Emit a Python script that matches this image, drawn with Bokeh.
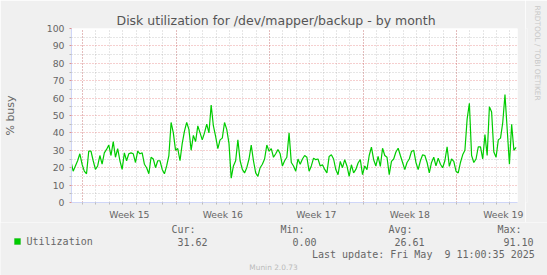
import pandas as pd
from bokeh.plotting import figure
from bokeh.layouts import column, row
from bokeh.models import Range1d, FixedTicker, Label, BoxAnnotation, Title
from bokeh.embed import file_html
from bokeh.resources import INLINE

# ---------------- data ----------------
title_text = "Disk utilization for /dev/mapper/backup - by month"
y_label = "% busy"
series_name = "Utilization"
first_sample = "2025-04-06 03:00"
sample_step = "4h"
utilization = [
    23.6, 18, 21, 24, 28, 22, 18, 16.5, 29.5, 29.5,
    24, 19, 21, 27, 22, 28.5, 30.5, 33, 27, 35,
    26, 31, 24, 19, 28.5, 24, 28, 28.5, 28, 23,
    29.5, 28, 28.5, 22, 20, 16.5, 26, 25, 20, 24,
    24, 19, 16.5, 21, 27, 46, 40, 30, 31, 24,
    34, 41, 46, 42, 30, 38.6, 35, 44, 40, 36,
    40, 45, 40, 56, 44, 38, 31, 36, 37, 46,
    42, 34, 14, 21, 24, 36, 24, 19, 17, 20,
    25, 33, 24, 17, 15, 20, 22, 25, 33, 29.5,
    31, 26, 28, 30.5, 28, 21, 24, 26, 40, 23,
    21, 18, 25, 22, 25, 27, 26, 18, 21, 25.5,
    24.6, 25, 21, 21.7, 19, 17, 26.5, 27.4, 25, 18.9,
    16, 23.6, 20, 24.6, 21, 15, 21.7, 17, 19, 22.7,
    24.6, 16, 21, 18.9, 27, 31.8, 24.6, 21, 26.5, 20.8,
    31.2, 27, 26, 16, 23.6, 25, 29, 31.2, 27, 23,
    18.9, 23, 25, 29.3, 30, 23, 18.9, 24, 27.4, 27,
    23, 17, 23, 26, 21, 25.5, 22, 20, 24, 32,
    20.8, 25, 23.6, 18, 17, 23, 27.4, 30, 48, 57,
    27, 23, 25, 32, 32, 25, 39, 27, 55, 52,
    29, 26, 36, 37, 46, 62, 42, 22, 45, 30,
    31.62,
]
range_start = "2025-04-06 04:00"
range_end = "2025-05-09 13:30"
week_starts = ["2025-04-07", "2025-04-14", "2025-04-21", "2025-04-28", "2025-05-05"]
week_labels = ["Week 15", "Week 16", "Week 17", "Week 18", "Week 19"]
day_first, day_last = "2025-04-07", "2025-05-09"
y_ticks = [0, 10, 20, 30, 40, 50, 60, 70, 80, 90, 100]
y_minor = [5, 15, 25, 35, 45, 55, 65, 75, 85, 95]
stat_heads = ["Cur:", "Min:", "Avg:", "Max:"]
stat_values = ["31.62", "0.00", "26.61", "91.10"]
last_update = "Last update: Fri May\u00a0 9 11:00:35 2025"
watermark = "Munin 2.0.73"
credit = "RRDTOOL / TOBI OETIKER"

# ---------------- layout constants (canvas px) ----------------
W, H = 547, 275
FL, FR, FT, FB = 67, 517, 28, 203
MAIN_W, MAIN_H = 525, 222
BG = "#F0F0F0"
FONT_COL = "#666666"
AXIS_COL = "#CFD6F8"


def ms(s):
    return int(pd.Timestamp(s).value // 10**6)


times = pd.date_range(first_sample, periods=len(utilization), freq=sample_step)
x0, x1 = ms(range_start), ms(range_end)

p = figure(width=MAIN_W, height=MAIN_H, x_axis_type="datetime",
           x_range=Range1d(x0, x1), y_range=Range1d(0, 100),
           output_backend="svg", toolbar_location=None,
           min_border_left=FL, min_border_right=MAIN_W - FR,
           min_border_top=FT, min_border_bottom=MAIN_H - FB)
p.background_fill_color = "#FFFFFF"
p.border_fill_color = BG
p.outline_line_color = None

# title
p.title.text = title_text
p.title.align = "left"
p.title.offset = 112 - FL
p.title.standoff = 2
p.title.vertical_align = "bottom"
p.title.text_font = "DejaVu Sans"
p.title.text_font_size = "12.5px"
p.title.text_font_style = "normal"
p.title.text_color = "#555555"

# grids
mondays = [ms(s) for s in week_starts]
days = [ms(d) for d in pd.date_range(day_first, day_last, freq="1D")]
p.xgrid.ticker = FixedTicker(ticks=mondays, minor_ticks=days)
p.ygrid.ticker = FixedTicker(ticks=y_ticks, minor_ticks=y_minor)
for g in (p.xgrid, p.ygrid):
    g.grid_line_color = "#DE5050"
    g.grid_line_alpha = 0.55
    g.grid_line_dash = "1 2"
    g.minor_grid_line_color = "#8F8F8F"
    g.minor_grid_line_alpha = 0.45
    g.minor_grid_line_dash = "1 2"

# axes
mid_week = [m + int(3.5 * 86400000) for m in mondays]
p.xaxis.ticker = FixedTicker(ticks=mid_week, minor_ticks=days)
p.xaxis.major_label_overrides = {t: l for t, l in zip(mid_week, week_labels)}
p.yaxis.ticker = FixedTicker(ticks=y_ticks, minor_ticks=y_minor)
for ax in (p.xaxis[0], p.yaxis[0]):
    ax.axis_line_color = AXIS_COL
    ax.major_label_text_font = "DejaVu Sans"
    ax.major_label_text_font_size = "9.3px"
    ax.major_label_text_color = FONT_COL
    ax.minor_tick_line_color = "#BBBBBB"
    ax.minor_tick_in = 0
    ax.minor_tick_out = 2
p.xaxis.major_tick_line_color = None
p.xaxis.major_tick_in = 0
p.xaxis.major_tick_out = 0
p.xaxis.major_label_standoff = 4
p.yaxis.major_tick_line_color = "#DE9090"
p.yaxis.major_tick_in = 0
p.yaxis.major_tick_out = 2
p.yaxis.major_label_standoff = 5
p.yaxis.axis_label = y_label
p.yaxis.axis_label_text_font = "DejaVu Sans"
p.yaxis.axis_label_text_font_size = "11px"
p.yaxis.axis_label_text_font_style = "normal"
p.yaxis.axis_label_text_color = FONT_COL
p.yaxis.axis_label_standoff = 27

# series
p.line(times, utilization, line_color="#00CC00", line_width=1.2)

# right strip with the rrdtool credit (as a side title, not clipped)
strip = figure(width=W - MAIN_W, height=MAIN_H, x_range=Range1d(0, 1), y_range=Range1d(0, 1),
               output_backend="svg", toolbar_location=None,
               x_axis_location=None, y_axis_location=None, min_border=0)
strip.grid.visible = False
strip.outline_line_color = None
strip.background_fill_color = BG
strip.border_fill_color = BG
strip.add_layout(Title(text=credit, align="left", offset=5 - FT, standoff=9,
                       vertical_align="middle", text_font="DejaVu Sans",
                       text_font_size="7.4px", text_font_style="normal",
                       text_color="#C8C8C8"), "right")

# legend figure below
LEG_H = H - MAIN_H
leg = figure(width=W, height=LEG_H, x_range=Range1d(0, 1), y_range=Range1d(0, 1),
             output_backend="svg", toolbar_location=None,
             x_axis_location=None, y_axis_location=None, min_border=0)
leg.grid.visible = False
leg.outline_line_color = None
leg.background_fill_color = BG
leg.border_fill_color = BG


def ltxt(s, cx, cy, size, font="DejaVu Sans Mono", align="left", color=FONT_COL):
    leg.add_layout(Label(x=cx, y=H - cy, x_units="screen", y_units="screen",
                         text=s, text_font=font, text_font_size=size,
                         text_color=color, text_align=align, text_baseline="middle"))


head_x = [171, 280, 388, 497]
val_x = [177, 292, 394, 503]
for s, x in zip(stat_heads, head_x):
    ltxt(s, x, 229, "10px")
for s, x in zip(stat_values, val_x):
    ltxt(s, x, 241, "10px")
ltxt(series_name, 26, 241, "10px")
ltxt(last_update, 311.5, 254, "10px")
ltxt(watermark, 273, 266.5, "7.4px", font="DejaVu Sans", align="center", color="#BBBBBB")

leg.add_layout(BoxAnnotation(left=14, right=20, top=H - 238, bottom=H - 244,
                             left_units="screen", right_units="screen",
                             top_units="screen", bottom_units="screen",
                             fill_color="#00CC00", fill_alpha=1.0, line_color="#00AA00"))

layout = column(row(p, strip, spacing=0), leg, spacing=0)
open("out.html", "w").write(file_html(layout, INLINE))
